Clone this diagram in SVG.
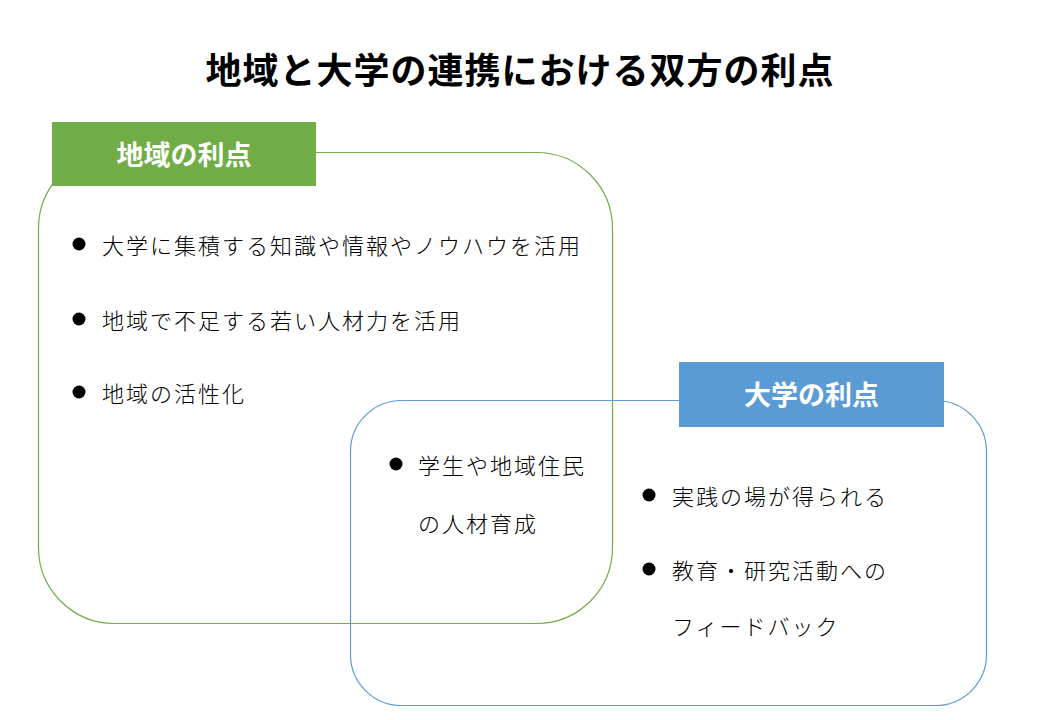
<svg xmlns="http://www.w3.org/2000/svg" width="1040" height="720" viewBox="0 0 1040 720">
  <style>
    .title { font-family: "Noto Sans CJK JP", "Noto Sans", sans-serif; font-size: 36px; font-weight: 700; fill: #000; letter-spacing: 1px; }
    .label { font-family: "Noto Sans CJK JP", "Noto Sans", sans-serif; font-size: 27px; font-weight: 700; fill: #fff; }
    .item { font-family: "Noto Sans CJK JP", "Noto Sans", sans-serif; font-size: 22px; font-weight: 300; fill: #000; letter-spacing: 2px; }
    .green { fill: none; stroke: #70AD47; stroke-width: 1.2; }
    .blue { fill: none; stroke: #5B9BD5; stroke-width: 1.2; }
    .bullet { fill: #000; }
  </style>
  <rect width="1040" height="720" fill="#fff"/>
  <text class="title" x="520" y="67.5" text-anchor="middle" dominant-baseline="central">地域と大学の連携における双方の利点</text>

  <g id="region-box">
    <rect class="green" x="38.5" y="152.5" width="574" height="471" rx="76" ry="76"/>
  </g>
  <g id="university-box">
    <rect class="blue" x="350.5" y="400.5" width="636" height="305" rx="51" ry="51"/>
  </g>

  <g id="region-label">
    <rect x="52" y="122" width="264" height="64" fill="#70AD47"/>
    <text class="label" x="184" y="153" text-anchor="middle" dominant-baseline="central">地域の利点</text>
  </g>
  <g id="university-label">
    <rect x="679" y="362" width="265" height="65" fill="#5B9BD5"/>
    <text class="label" x="811.5" y="393" text-anchor="middle" dominant-baseline="central">大学の利点</text>
  </g>

  <g id="region-items">
    <circle class="bullet" cx="79" cy="244" r="6.5"/>
    <text class="item" x="102" y="243.5" dominant-baseline="central">大学に集積する知識や情報やノウハウを活用</text>
    <circle class="bullet" cx="79" cy="319" r="6.5"/>
    <text class="item" x="102" y="318.5" dominant-baseline="central">地域で不足する若い人材力を活用</text>
    <circle class="bullet" cx="79" cy="392" r="6.5"/>
    <text class="item" x="102" y="391.5" dominant-baseline="central">地域の活性化</text>
  </g>

  <g id="shared-items">
    <circle class="bullet" cx="396" cy="464" r="6.5"/>
    <text class="item" x="418" y="463.5" dominant-baseline="central">学生や地域住民</text>
    <text class="item" x="418" y="521.5" dominant-baseline="central">の人材育成</text>
  </g>

  <g id="university-items">
    <circle class="bullet" cx="649" cy="495" r="6.5"/>
    <text class="item" x="672" y="494.5" dominant-baseline="central">実践の場が得られる</text>
    <circle class="bullet" cx="649" cy="569" r="6.5"/>
    <text class="item" x="672" y="568.5" dominant-baseline="central">教育・研究活動への</text>
    <text class="item" x="672" y="624.5" dominant-baseline="central">フィードバック</text>
  </g>

  <g id="connectors"></g>
</svg>
